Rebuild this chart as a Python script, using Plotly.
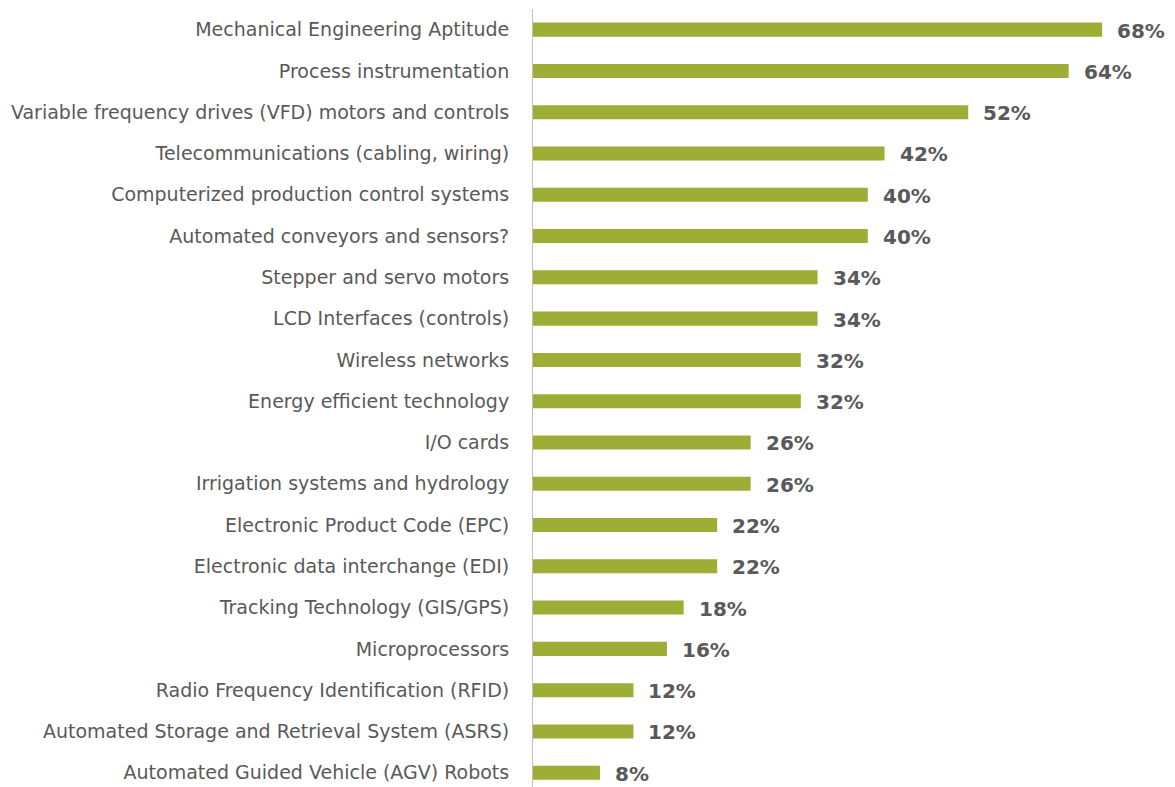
import plotly.graph_objects as go

categories = [
    "Mechanical Engineering Aptitude",
    "Process instrumentation",
    "Variable frequency drives (VFD) motors and controls",
    "Telecommunications (cabling, wiring)",
    "Computerized production control systems",
    "Automated conveyors and sensors?",
    "Stepper and servo motors",
    "LCD Interfaces (controls)",
    "Wireless networks",
    "Energy efficient technology",
    "I/O cards",
    "Irrigation systems and hydrology",
    "Electronic Product Code (EPC)",
    "Electronic data interchange (EDI)",
    "Tracking Technology (GIS/GPS)",
    "Microprocessors",
    "Radio Frequency Identification (RFID)",
    "Automated Storage and Retrieval System (ASRS)",
    "Automated Guided Vehicle (AGV) Robots",
]
values = [68, 64, 52, 42, 40, 40, 34, 34, 32, 32, 26, 26, 22, 22, 18, 16, 12, 12, 8]

BAR = "#9DAD35"
TXT = "#595959"

fig = go.Figure()
fig.add_trace(go.Bar(
    x=values, y=categories, orientation="h",
    marker=dict(color=BAR, line=dict(width=0)),
    width=0.34,
    hoverinfo="skip",
))
for c, v in zip(categories, values):
    fig.add_annotation(x=v, y=c, text=f"<b>{v}%</b>", showarrow=False,
                       xanchor="left", xshift=13, yshift=-1,
                       font=dict(family="DejaVu Sans, sans-serif", size=20, color=TXT))

fig.update_layout(
    width=1175, height=787,
    margin=dict(l=525, r=0, t=1, b=7),
    plot_bgcolor="white", paper_bgcolor="white",
    showlegend=False,
    xaxis=dict(range=[0, 77.66], visible=False, fixedrange=True),
    yaxis=dict(
        type="category", range=[18.37, -0.5],
        showline=True, linecolor="#BFBFBF", linewidth=1,
        ticks="outside", ticklen=19, tickcolor="rgba(0,0,0,0)",
        showgrid=False, zeroline=False,
        tickfont=dict(family="DejaVu Sans, sans-serif", size=19, color=TXT),
    ),
)
fig.write_html("out.html")
